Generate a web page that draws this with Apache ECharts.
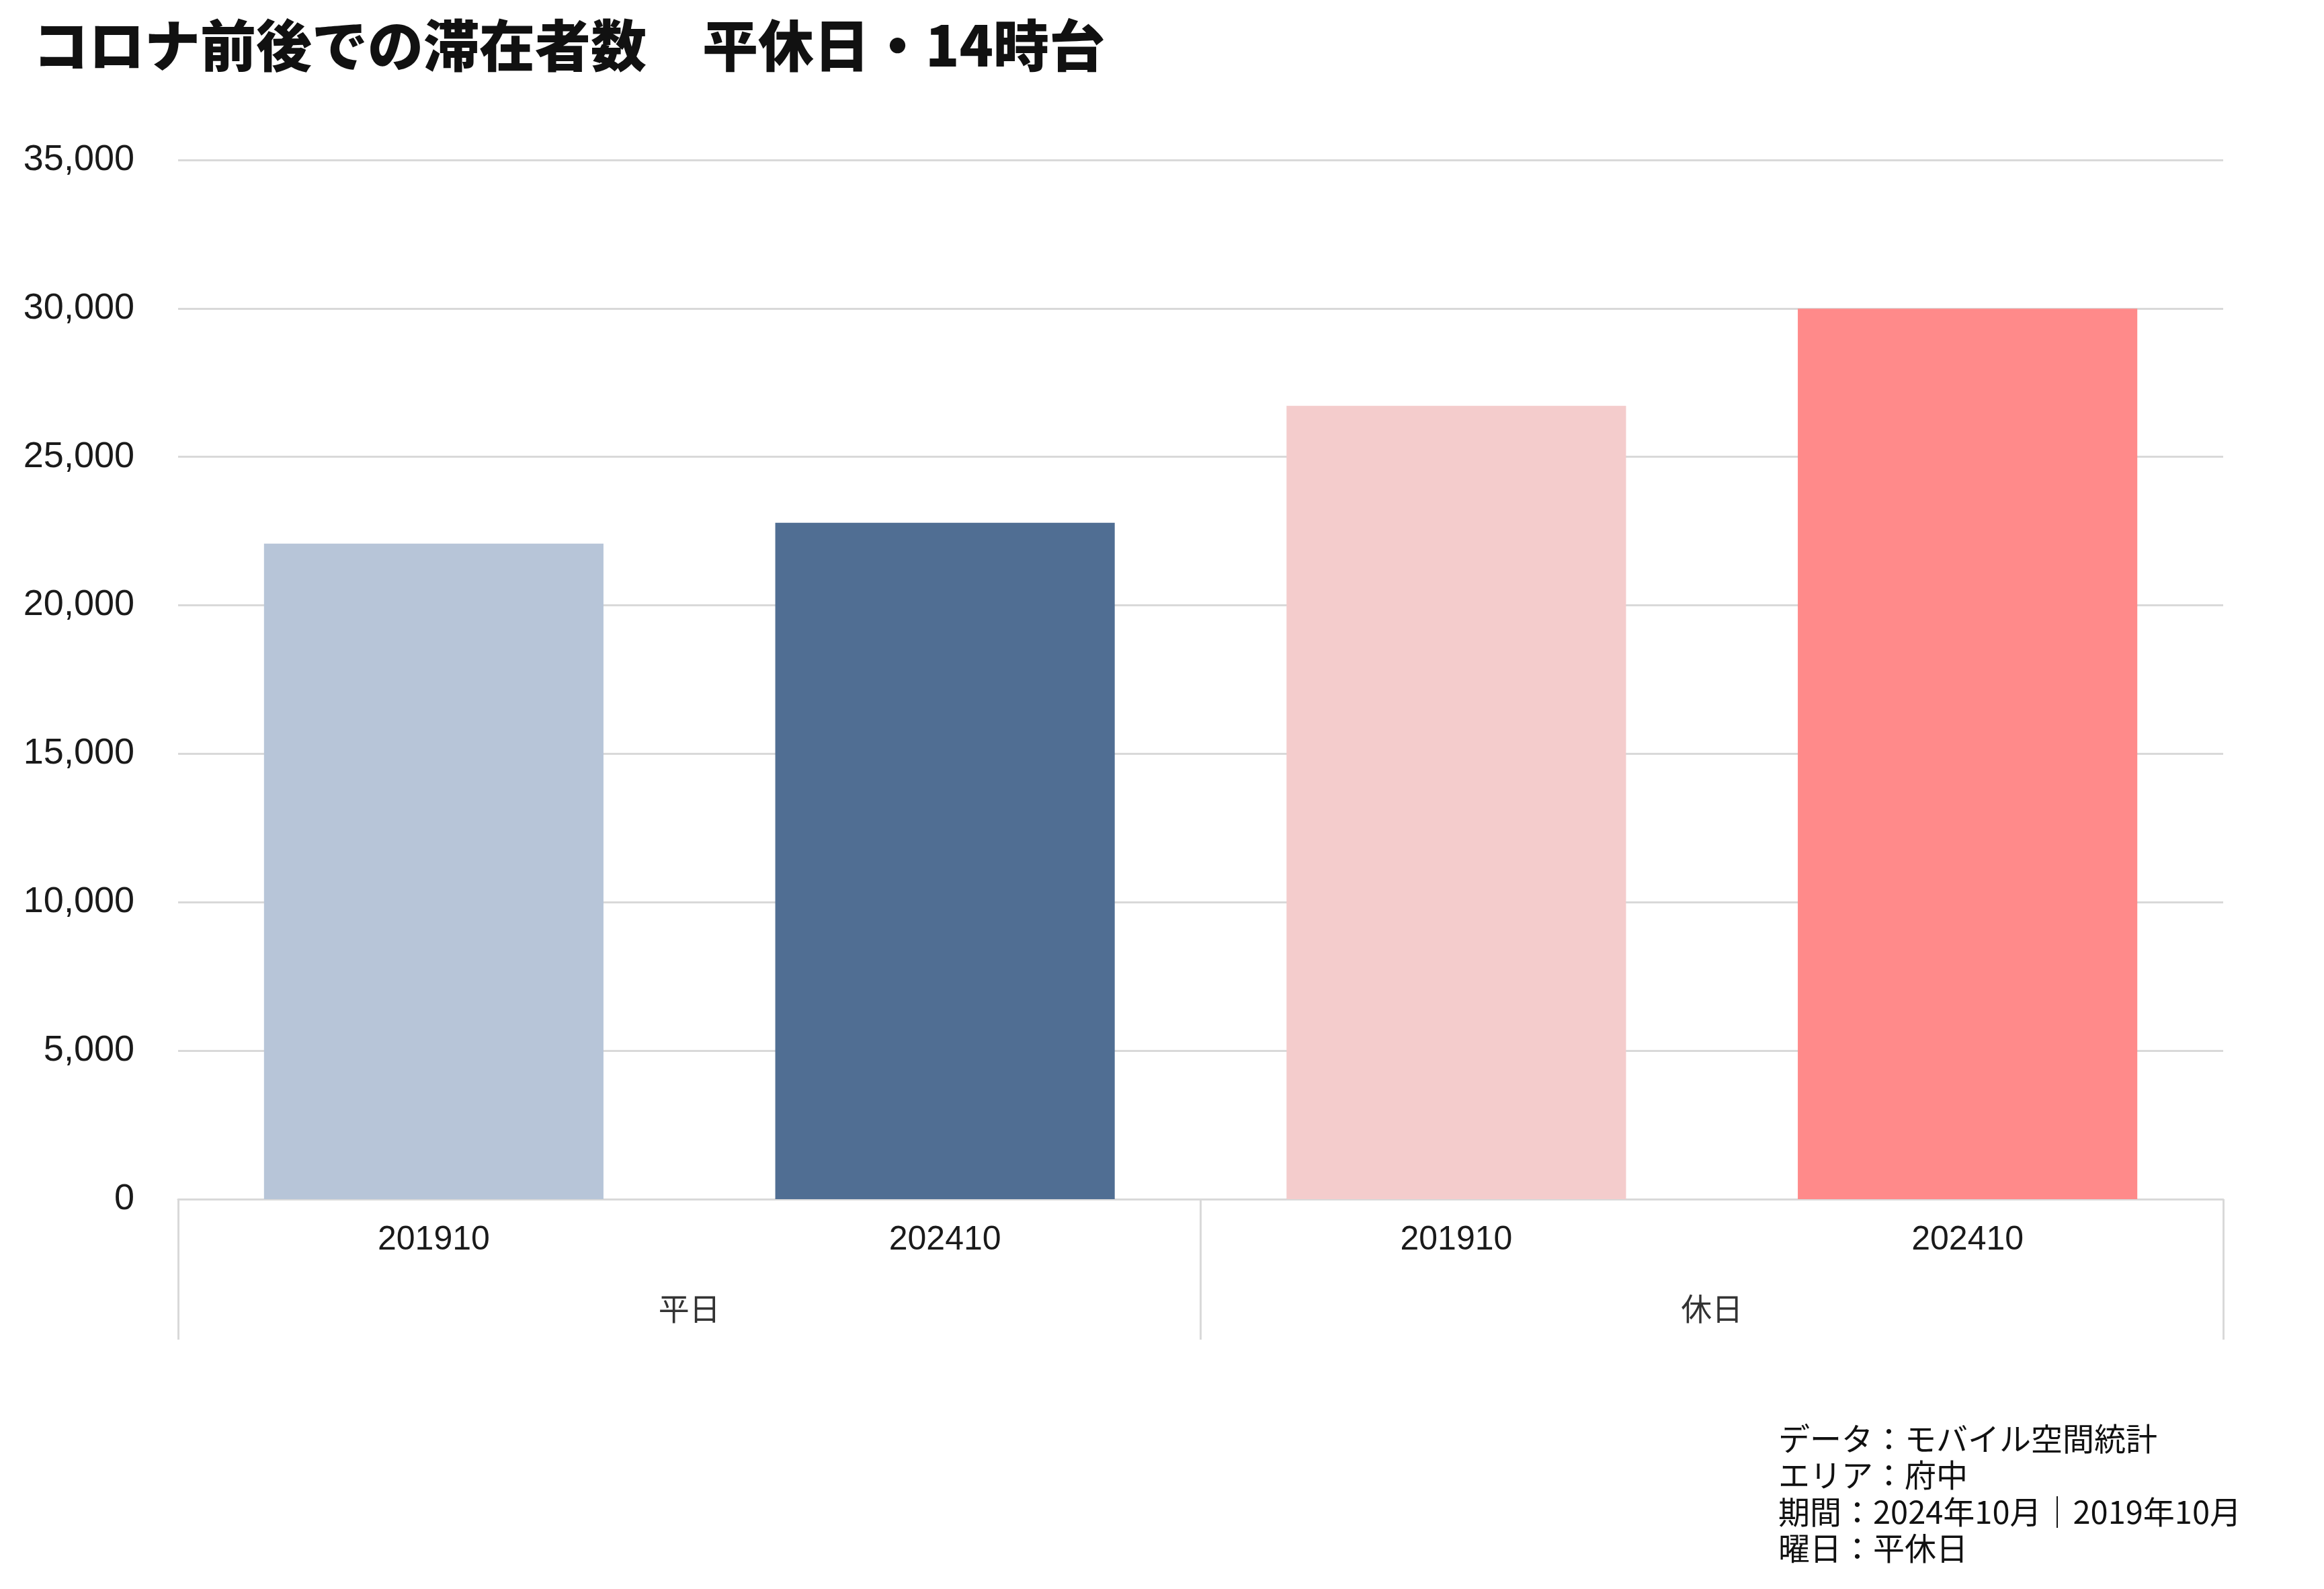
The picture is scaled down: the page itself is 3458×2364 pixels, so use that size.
<!DOCTYPE html>
<html>
<head>
<meta charset="utf-8">
<script src="https://cdn.jsdelivr.net/npm/echarts@6/dist/echarts.min.js"></script>
<style>
html,body{margin:0;padding:0;background:#fff;}
#chart{width:3458px;height:2364px;}
</style>
</head>
<body>
<div id="chart"></div>
<script>
// ---- data ----
const periods = ['201910', '202410', '201910', '202410'];
const dayTypes = ['平日', '休日'];
const visitors = [22080, 22780, 26720, 29990];
const yTicks = { min: 0, max: 35000, interval: 5000 };
const titleText = 'コロナ前後での滞在者数　平休日・14時台';
const noteLines = ['データ：モバイル空間統計', 'エリア：府中', '期間：2024年10月｜2019年10月', '曜日：平休日'];

// ---- styles ----
const barColors = ['#b7c5d8', '#506e93', '#f4cccc', '#ff8a8a'];
const gridColor = '#d9d9d9';
const jp = '"Noto Sans CJK JP", "Noto Sans", sans-serif';
const latin = '"Liberation Sans", Arial, sans-serif';

const chart = echarts.init(document.getElementById('chart'), null, { renderer: 'canvas' });
chart.setOption({
  backgroundColor: '#ffffff',
  animation: false,
  title: {
    text: titleText,
    left: 44,
    top: 21,
    textStyle: { fontFamily: jp, fontSize: 83, fontWeight: 900, color: '#111111', lineHeight: 83 }
  },
  grid: { left: 265, right: 150, top: 238, bottom: 580, containLabel: false },
  xAxis: [
    {
      type: 'category',
      data: periods,
      position: 'bottom',
      axisLine: { show: true, lineStyle: { color: gridColor, width: 3 } },
      axisTick: { show: false },
      axisLabel: { interval: 0, margin: 36, fontFamily: latin, fontSize: 50, lineHeight: 50, color: '#1a1a1a' }
    },
    {
      type: 'category',
      data: dayTypes,
      position: 'bottom',
      axisLine: { show: false, onZero: false },
      axisTick: { show: true, interval: 0, alignWithLabel: false, length: 209, lineStyle: { color: gridColor, width: 3 } },
      axisLabel: { interval: 0, margin: 140, fontFamily: jp, fontSize: 46, lineHeight: 46, color: '#333333' },
      splitLine: { show: false }
    }
  ],
  yAxis: {
    type: 'value',
    min: yTicks.min,
    max: yTicks.max,
    interval: yTicks.interval,
    axisLine: { show: false },
    axisTick: { show: false },
    splitLine: { show: true, lineStyle: { color: gridColor, width: 3 } },
    axisLabel: {
      margin: 65,
      fontFamily: latin,
      fontSize: 54,
      lineHeight: 54,
      padding: [4, 0, 0, 0],
      color: '#1a1a1a',
      formatter: v => v.toString().replace(/\B(?=(\d{3})+(?!\d))/g, ',')
    }
  },
  series: [{
    type: 'bar',
    xAxisIndex: 0,
    barWidth: '66.4%',
    data: visitors.map((v, i) => ({ value: v, itemStyle: { color: barColors[i] } })),
    z: 3
  }],
  graphic: [{
    type: 'text',
    left: 2646,
    top: 2113,
    style: {
      text: noteLines.join('\n'),
      font: '47px ' + jp,
      lineHeight: 54.3,
      fill: '#111111'
    }
  }]
});
</script>
</body>
</html>
